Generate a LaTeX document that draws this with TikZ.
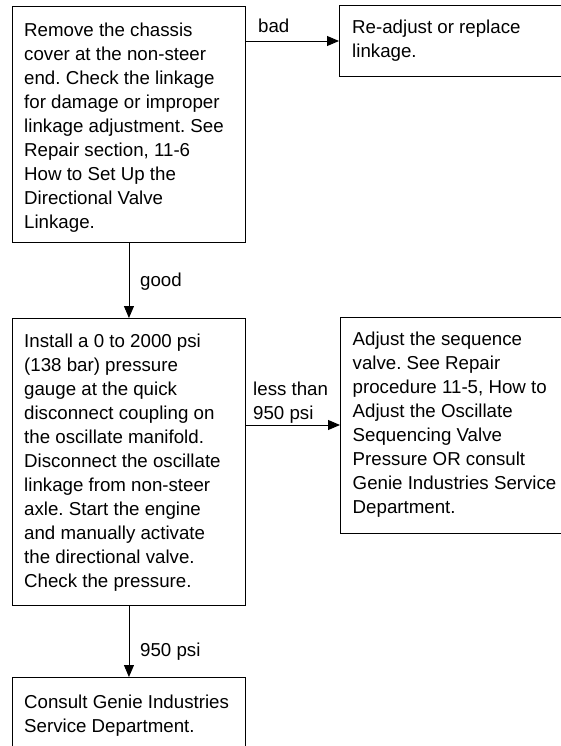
\documentclass[tikz,border=0pt]{standalone}
\usepackage{fontspec}
\setmainfont{Liberation Sans}
\usetikzlibrary{arrows.meta}
\newcommand\fs{\fontsize{18.7}{24}\selectfont\frenchspacing}
\begin{document}
\begin{tikzpicture}[x=1pt,y=-1pt,
  box/.style={draw, line width=0.9pt, inner sep=0pt, anchor=north west},
  txt/.style={font=\fs, align=left, inner sep=0pt, anchor=north west},
  lab/.style={font=\fs, align=left, inner sep=0pt, anchor=base west},
  arr/.style={-{Triangle[length=12pt,width=10pt]}, line width=0.9pt}]
\useasboundingbox (0,0) rectangle (561,746);
\clip (0,0) rectangle (561,746);
\fill[white] (0,0) rectangle (561,746);
% boxes
\node[box, minimum width=233pt, minimum height=236pt] (b1) at (12,6) {};
\node[box, minimum width=240pt, minimum height=71pt] (b2) at (339,5) {};
\node[box, minimum width=233pt, minimum height=287pt] (b3) at (12,318) {};
\node[box, minimum width=240pt, minimum height=216pt] (b4) at (340,317) {};
\node[box, minimum width=233pt, minimum height=100pt] (b5) at (12,677) {};
% texts
\node[txt] (t1) at (24,22.6) {Remove the chassis\\cover at the non-steer\\end. Check the linkage\\for damage or improper\\linkage adjustment. See\\Repair section, 11-6\\How to Set Up the\\Directional Valve\\Linkage.};
\node[txt] (t2) at (352,19.6) {Re-adjust or replace\\linkage.};
\node[txt] (t3) at (24,333.3) {Install a 0 to 2000 psi\\(138 bar) pressure\\gauge at the quick\\disconnect coupling on\\the oscillate manifold.\\Disconnect the oscillate\\linkage from non-steer\\axle. Start the engine\\and manually activate\\the directional valve.\\Check the pressure.};
\node[txt] (t4) at (352.5,331.6) {Adjust the sequence\\valve. See Repair\\procedure 11-5, How to\\Adjust the Oscillate\\Sequencing Valve\\Pressure OR consult\\Genie Industries Service\\Department.};
\node[txt] (t5) at (24,694.6) {Consult Genie Industries\\Service Department.};
% connectors
\coordinate (ybad) at (0,41);
\coordinate (yless) at (0,425);
\draw[arr] (b1.east |- ybad) -- (b2.west |- ybad);
\draw[arr] (b1.south) -- (b3.north);
\draw[arr] (b3.east |- yless) -- (b4.west |- yless);
\draw[arr] (b3.south) -- (b5.north);
% labels
\node[lab] (lbad) at (258,33) {bad};
\node[lab] (lgood) at (140,286) {good};
\node[txt] (lless) at (253,381.4) {less than\\950 psi};
\node[lab] (l950) at (140,656) {950 psi};
\end{tikzpicture}
\end{document}
